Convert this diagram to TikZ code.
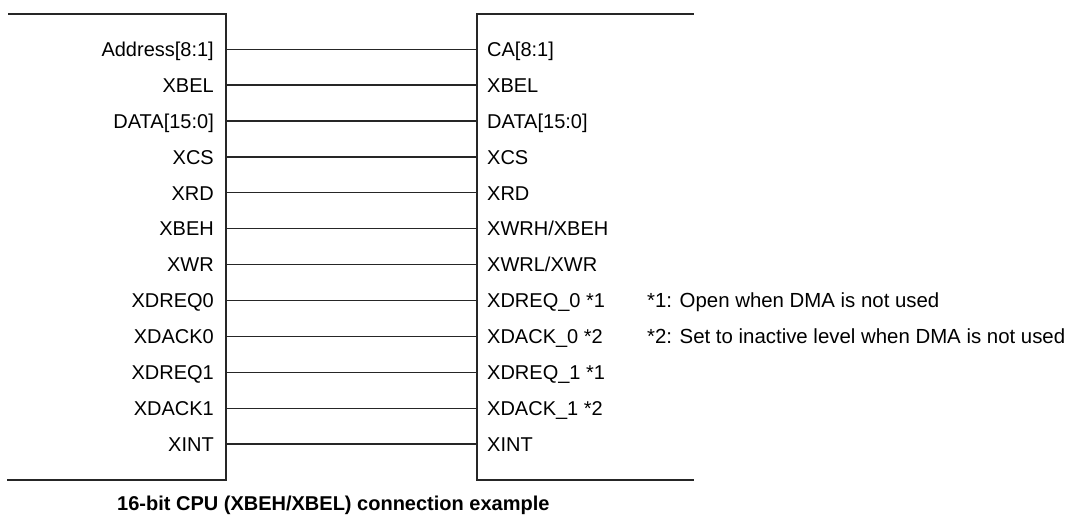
\documentclass[tikz,border=0pt]{standalone}
\usepackage{fontspec}
\setmainfont{Liberation Sans}
\begin{document}
\begin{tikzpicture}[x=1pt,y=-1pt,
  wire/.style={line width=1.3pt, black!85},
  boxline/.style={line width=1.5pt, black!85, line cap=rect},
  lbl/.style={inner sep=0pt, font=\fontsize{20}{24}\selectfont},
  note/.style={inner sep=0pt, font=\fontsize{20.4}{24}\selectfont},
  caption/.style={inner sep=0pt, font=\fontsize{20}{24}\selectfont\bfseries}]
\useasboundingbox (0,0) rectangle (1072,515);
% boxes
\draw[boxline] (9,14) -- (226,14) -- (226,480) -- (8,480);
\draw[boxline] (693,14) -- (477,14) -- (477,480) -- (693,480);
% signals
\foreach \i/\l/\r in {0/{Address[8:1]}/{CA[8:1]},
                      1/XBEL/XBEL,
                      2/{DATA[15:0]}/{DATA[15:0]},
                      3/XCS/XCS,
                      4/XRD/XRD,
                      5/XBEH/{XWRH/XBEH},
                      6/XWR/{XWRL/XWR},
                      7/XDREQ0/{XDREQ\_0 *1},
                      8/XDACK0/{XDACK\_0 *2},
                      9/XDREQ1/{XDREQ\_1 *1},
                      10/XDACK1/{XDACK\_1 *2},
                      11/XINT/XINT}{
  \pgfmathsetmacro{\yy}{49.2+35.9*\i}
  \coordinate (l\i) at (226,\yy);
  \coordinate (r\i) at (477,\yy);
  \node[lbl, anchor=base east] (ln\i) at (214,\yy+7.2) {\l};
  \node[lbl, anchor=base west] (rn\i) at (487,\yy+7.2) {\r};
  \draw[wire] (l\i) -- (r\i);
}
% notes
\node[note, anchor=base west] (n1) at (647,49.2+35.9*7+7.2) {*1: Open when DMA is not used};
\node[note, anchor=base west] (n2) at (647,49.2+35.9*8+7.2) {*2: Set to inactive level when DMA is not used};
% caption
\node[caption, anchor=base west] (cap) at (117,510) {16-bit CPU (XBEH/XBEL) connection example};
\end{tikzpicture}
\end{document}
